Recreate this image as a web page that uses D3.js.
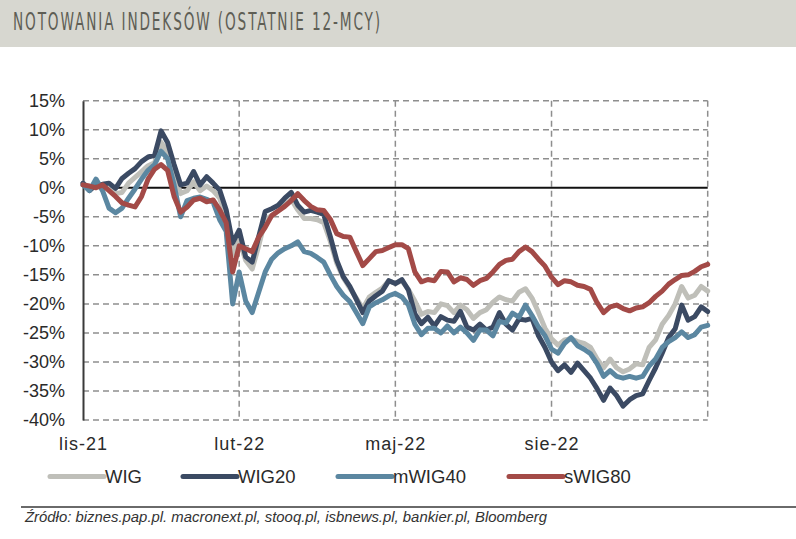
<!DOCTYPE html>
<html><head><meta charset="utf-8">
<script src="https://cdn.jsdelivr.net/npm/d3@7"></script>
<style>html,body{margin:0;padding:0;background:#fff;}svg{display:block;}</style>
</head><body>
<svg id="c" width="796" height="539"></svg>
<script>
const title = "NOTOWANIA INDEKSÓW (OSTATNIE 12-MCY)";
const source = "Źródło: biznes.pap.pl. macronext.pl, stooq.pl, isbnews.pl, bankier.pl, Bloomberg";
const xTickMonths = [0, 3, 6, 9];
const xTickLabels = ["lis-21", "lut-22", "maj-22", "sie-22"];
const yTicks = [15, 10, 5, 0, -5, -10, -15, -20, -25, -30, -35, -40];
const seriesNames = ["WIG", "WIG20", "mWIG40", "sWIG80"];
const seriesColors = ["#bfbfb9", "#3b4a63", "#5b87a1", "#a34a47"];

const wig = [0.8,0,0.5,0.3,-0.2,-1.0,-0.8,0.8,1.8,2.8,3.8,4.3,7.8,6.2,2.5,-1.0,-0.5,1.0,-0.5,0.3,-0.5,-1.8,-5.0,-11.5,-9.0,-12.5,-14,-10,-5.5,-4.8,-4.0,-3.0,-2.0,-3.8,-5.3,-5.3,-5.5,-6,-9.2,-13,-15.5,-17.3,-19,-20.8,-18.8,-18,-17.3,-16,-16.5,-16,-17.5,-19.5,-21.8,-21.3,-21.5,-20,-20.3,-21.5,-20.2,-21,-22.5,-21.5,-21,-19.7,-18.8,-19.3,-19.5,-18,-17.4,-19,-21.5,-24.2,-26,-27.1,-26.2,-26,-26.5,-26.8,-27.5,-29.5,-31,-29.5,-31,-31.7,-31.2,-30.3,-30.5,-27.5,-26.2,-23.5,-22,-20,-17,-19,-18.5,-17,-17.8];
const wig20 = [0.8,-0.5,0.5,0.6,0.8,-0.1,1.6,2.5,3.3,4.5,5.3,5.6,9.8,7.8,4.0,0.5,0.8,2.8,0.5,1.9,0.8,-0.4,-3.8,-9.5,-7.3,-11.9,-12.8,-8.4,-4.1,-3.6,-3.0,-1.8,-0.8,-3.0,-4.2,-3.9,-4.2,-4.6,-8.4,-12.5,-15.3,-17.0,-19.2,-21.5,-19.5,-18.6,-17.8,-16.0,-16.5,-15.8,-17.6,-21.7,-23.4,-22.3,-23.8,-22.2,-22.8,-23.0,-21.3,-24.0,-24.5,-23.5,-24.5,-24.0,-21.5,-23.5,-24.5,-22.6,-22.8,-22.5,-25.5,-27.5,-30.0,-31.5,-30.5,-31.8,-30.2,-31.5,-32.8,-34.6,-36.6,-34.5,-35.8,-37.6,-36.5,-35.8,-35.5,-33.2,-31.0,-28.5,-25.8,-24.3,-20.2,-22.8,-22.2,-20.5,-21.3];
const mwig40 = [0.5,-0.5,1.5,-0.5,-3.5,-4.3,-3.5,-1.8,-0.2,1.5,3,4,6.3,5,0.5,-5.0,-2.2,-1.8,-1.6,-2.0,-2.5,-5.5,-7.5,-20,-14.5,-19.5,-21.5,-18.0,-14.5,-12.3,-11.2,-10.5,-10.0,-9.3,-11,-11.3,-12,-12.8,-15,-17,-18.5,-19.6,-21.5,-23.4,-20.5,-19.8,-19.3,-18.6,-18.2,-18.8,-20.2,-23.5,-25.3,-24.2,-24.2,-25,-23.8,-25,-24,-25,-26.3,-24.5,-24.5,-25.5,-23,-23.3,-21.6,-22.3,-20.2,-22,-24,-25.5,-27.8,-28.5,-26.8,-25.8,-27.2,-27.8,-28.6,-30.3,-32.5,-31.5,-32.5,-32.8,-32.5,-32.8,-32.5,-30.7,-29.5,-27.5,-26.5,-25.8,-24.8,-25.8,-25.3,-24,-23.7];
const swig80 = [0.5,0.3,0,0.5,-0.5,-1.5,-2.6,-3,-3.3,-1.5,1.5,3.2,4.0,3.0,-1.5,-4.2,-3.3,-2.1,-1.8,-2.4,-2.1,-3.8,-6,-14.5,-10,-10.5,-11,-8.5,-6.8,-4.8,-4,-3.2,-2.2,-1.0,-2.2,-3.2,-3.8,-3.9,-5.4,-7.9,-8.4,-8.5,-11,-13.4,-12.2,-11,-10.8,-10.3,-9.8,-9.8,-10.5,-14.5,-16.2,-15.8,-16,-14.4,-14.5,-16.2,-15.5,-15.8,-16.8,-16,-15.6,-14.5,-13.2,-12.5,-12.3,-11.0,-10.2,-11,-12.3,-13.5,-15.4,-16.7,-16,-16.2,-16.8,-17,-17.5,-19.8,-21.5,-20.5,-20.2,-20.8,-21.2,-20.7,-20.5,-19.8,-18.7,-17.8,-16.6,-15.8,-15.1,-15,-14.4,-13.6,-13.2];

(function () {
const seriesValues = [wig, wig20, mwig40, swig80];
const months = d3.range(wig.length).map(i => i * 0.125); // time position, in months from lis-21

const svg = d3.select("#c");
const W = 796;
const pLeft = 83, pRight = 707.7, pTop = 100.7, pBottom = 420;

// title banner
svg.append("rect").attr("x", 0).attr("y", 0).attr("width", W).attr("height", 47).attr("fill", "#d7d7d0");
svg.append("text").attr("x", 13).attr("y", 29.5).text(title)
  .attr("font-family", "'Liberation Sans Narrow', 'DejaVu Sans Condensed', sans-serif")
  .attr("font-size", 24.5).attr("fill", "#5e5e55").attr("letter-spacing", 3)
  .attr("textLength", 369).attr("lengthAdjust", "spacingAndGlyphs");

const x = d3.scaleLinear().domain([0, 12]).range([pLeft, pRight]);
const y = d3.scaleLinear().domain([-40, 15]).range([pBottom, pTop]);

const gridColor = "#8e8e8e";
const dash = "6,4";

svg.append("g").selectAll("line").data(yTicks.filter(v => v !== 0)).join("line")
  .attr("x1", pLeft).attr("x2", pRight).attr("y1", d => y(d)).attr("y2", d => y(d))
  .attr("stroke", gridColor).attr("stroke-width", 1.5).attr("stroke-dasharray", dash);
svg.append("g").selectAll("line").data(xTickMonths.filter(m => m > 0).concat([12])).join("line")
  .attr("x1", d => x(d)).attr("x2", d => x(d)).attr("y1", pTop).attr("y2", pBottom)
  .attr("stroke", gridColor).attr("stroke-width", 1.5).attr("stroke-dasharray", dash);

svg.append("line").attr("x1", pLeft).attr("x2", pRight).attr("y1", y(0)).attr("y2", y(0))
  .attr("stroke", "#111").attr("stroke-width", 2);

const yAxis = d3.axisLeft(y).tickValues(yTicks).tickSize(0).tickPadding(18).tickFormat(d => d + "%");
const ga = svg.append("g").attr("transform", `translate(${pLeft},0)`).call(yAxis);
ga.select(".domain").attr("stroke", "#3a3a3a").attr("stroke-width", 2);
ga.selectAll("text").attr("font-family", "'Liberation Sans', Arial, sans-serif").attr("font-size", 18).attr("fill", "#2a2a2a");

const xAxis = d3.axisBottom(x).tickValues(xTickMonths).tickSize(0).tickPadding(17)
  .tickFormat((d, i) => xTickLabels[i]);
const gx = svg.append("g").attr("transform", `translate(0,${pBottom})`).call(xAxis);
gx.select(".domain").remove();
gx.selectAll("text").attr("font-family", "'Liberation Sans', Arial, sans-serif").attr("font-size", 18)
  .attr("fill", "#2a2a2a").attr("letter-spacing", 1);

const line = d3.line().x((d, i) => x(months[i])).y(d => y(d)).curve(d3.curveLinear);
svg.append("g").selectAll("path").data(seriesValues).join("path")
  .attr("d", d => line(d)).attr("fill", "none")
  .attr("stroke", (d, i) => seriesColors[i]).attr("stroke-width", 5)
  .attr("stroke-linejoin", "round").attr("stroke-linecap", "round");

const legendX = [50, 183, 338, 509];
const lg = svg.append("g").selectAll("g").data(seriesNames).join("g")
  .attr("transform", (d, i) => `translate(${legendX[i]},476.5)`);
lg.append("line").attr("x1", 0).attr("x2", 54).attr("y1", 0).attr("y2", 0)
  .attr("stroke", (d, i) => seriesColors[i]).attr("stroke-width", 5).attr("stroke-linecap", "round");
lg.append("text").attr("x", 55).attr("y", 6.5).text(d => d)
  .attr("font-family", "'Liberation Sans', Arial, sans-serif").attr("font-size", 18.5).attr("fill", "#2a2a2a");

svg.append("line").attr("x1", 21).attr("x2", W).attr("y1", 507).attr("y2", 507)
  .attr("stroke", "#6a6a6a").attr("stroke-width", 2);
svg.append("text").attr("x", 25).attr("y", 521.5).text(source)
  .attr("font-family", "'Liberation Sans Narrow', 'Liberation Sans', sans-serif").attr("font-style", "italic")
  .attr("font-size", 14.5).attr("fill", "#333").attr("textLength", 522).attr("lengthAdjust", "spacingAndGlyphs");
})();
</script>
</body></html>
